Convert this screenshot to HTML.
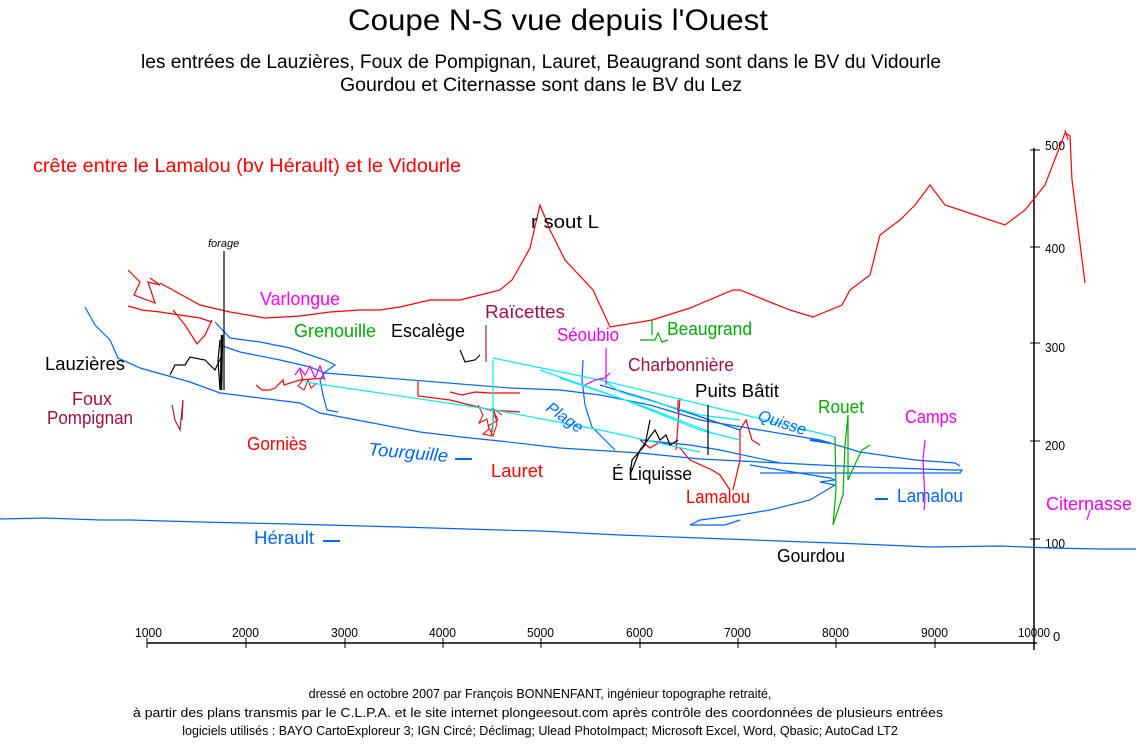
<!DOCTYPE html>
<html><head><meta charset="utf-8"><style>
html,body{margin:0;padding:0;background:#fff;}
svg{display:block;}
text{font-family:"Liberation Sans",sans-serif;}
</style></head><body>
<svg width="1136" height="747" viewBox="0 0 1136 747" xmlns="http://www.w3.org/2000/svg">
<g font-weight="normal">
<text x="348" y="30" font-size="30" textLength="420" lengthAdjust="spacingAndGlyphs" fill="#000">Coupe N-S vue depuis l'Ouest</text>
<text x="141" y="68" font-size="19" textLength="800" lengthAdjust="spacingAndGlyphs">les entrées de Lauzières, Foux de Pompignan, Lauret, Beaugrand sont dans le BV du Vidourle</text>
<text x="340" y="91" font-size="19" textLength="402" lengthAdjust="spacingAndGlyphs">Gourdou et Citernasse sont dans le BV du Lez</text>
<text x="33" y="172" font-size="19" fill="#f00" textLength="428" lengthAdjust="spacingAndGlyphs">crête entre le Lamalou (bv Hérault) et le Vidourle</text>
</g>
<!-- axes -->
<g stroke="#000" stroke-width="1.5" fill="none">
<line x1="147" y1="643" x2="1037" y2="643"/>
<line x1="1034" y1="148" x2="1034" y2="650"/>
</g>
<g stroke="#000" stroke-width="1">
<line x1="147" y1="638" x2="147" y2="648"/><line x1="246" y1="638" x2="246" y2="648"/><line x1="345" y1="638" x2="345" y2="648"/><line x1="443" y1="638" x2="443" y2="648"/><line x1="541" y1="638" x2="541" y2="648"/><line x1="640" y1="638" x2="640" y2="648"/><line x1="738" y1="638" x2="738" y2="648"/><line x1="836" y1="638" x2="836" y2="648"/><line x1="935" y1="638" x2="935" y2="648"/>
<line x1="1030" y1="150" x2="1040" y2="150"/><line x1="1030" y1="247" x2="1040" y2="247"/><line x1="1030" y1="343" x2="1040" y2="343"/><line x1="1030" y1="441" x2="1040" y2="441"/><line x1="1030" y1="539" x2="1040" y2="539"/>
</g>
<g font-size="13" fill="#000">
<text x="135" y="637" textLength="27" lengthAdjust="spacingAndGlyphs">1000</text>
<text x="232" y="637" textLength="27" lengthAdjust="spacingAndGlyphs">2000</text>
<text x="331" y="637" textLength="27" lengthAdjust="spacingAndGlyphs">3000</text>
<text x="429" y="637" textLength="27" lengthAdjust="spacingAndGlyphs">4000</text>
<text x="527" y="637" textLength="27" lengthAdjust="spacingAndGlyphs">5000</text>
<text x="626" y="637" textLength="27" lengthAdjust="spacingAndGlyphs">6000</text>
<text x="724" y="637" textLength="27" lengthAdjust="spacingAndGlyphs">7000</text>
<text x="822" y="637" textLength="27" lengthAdjust="spacingAndGlyphs">8000</text>
<text x="921" y="637" textLength="27" lengthAdjust="spacingAndGlyphs">9000</text>
<text x="1018" y="637" textLength="32" lengthAdjust="spacingAndGlyphs">10000</text>
<text x="1053" y="641">0</text>
<text x="1045" y="548" textLength="20" lengthAdjust="spacingAndGlyphs">100</text>
<text x="1045" y="450" textLength="20" lengthAdjust="spacingAndGlyphs">200</text>
<text x="1045" y="352" textLength="20" lengthAdjust="spacingAndGlyphs">300</text>
<text x="1045" y="253" textLength="20" lengthAdjust="spacingAndGlyphs">400</text>
<text x="1045" y="150" textLength="20" lengthAdjust="spacingAndGlyphs">500</text>
</g>
<!-- crest -->
<g stroke="#f00" stroke-width="1.2" fill="none">
<polyline points="160,283 200,305 230,312 265,318 300,316 330,312 360,310 380,310 400,307 430,300 460,300 480,295 500,290 512,280 520,266 530,248 540,205 550,230 565,260 593,290 610,327 652,320 690,308 733,290 740,290 790,310 813,317 842,305 850,290 870,275 880,235 900,220 915,205 930,185 945,205 1005,225 1025,210 1045,185 1065,133 1070,136 1072,180 1085,283"/>
<polyline points="128,270 140,282 134,295 155,303 148,282 160,285 150,278"/>
<polyline points="128,306 142,310 160,312 200,318 212,322"/>
<polyline points="173,310 185,325 197,344 205,335 212,320"/>
<polyline points="256,385 262,390 270,390 275,388 283,380 284,385 300,380 325,378"/>
<polyline points="418,380 418,396 450,400 470,405 490,410 520,412"/>
<polyline points="450,392 462,395 475,392 490,393 520,393"/>
<polyline points="640,440 650,448 660,442 680,448 690,460 712,470 720,475 730,490"/>
<polyline points="733,490 740,460 740,430 746,420 752,440 760,445"/>
<polyline points="676,450 680,398"/>
<polyline points="1065,130 1068,140"/>
</g>
<g stroke="#e00" stroke-width="1" fill="none">
<path d="M478,405 l5,10 l-4,8 l8,-4 l2,10 l-6,5 l8,2 l3,-20 l-2,-8 l6,12 l-10,6 l5,10 l4,-12 l-3,-15 l8,6"/>
<path d="M300,370 l3,10 l-5,6 l6,4 l4,-10 l3,8 l6,-5"/>
</g>
<text x="260" y="305" font-size="18" fill="#f0f" textLength="80" lengthAdjust="spacingAndGlyphs">Varlongue</text>
<!-- blue rivers -->
<g stroke="#06f" stroke-width="1.2" fill="none">
<polyline points="0,519 45,518 100,520 130,520 200,522 290,524 400,527 500,530 540,531 620,535 700,538 780,541 860,544 930,547 1000,546 1050,548 1100,549 1136,549"/>
<polyline points="85,307 95,325 110,340 118,358 140,368 190,382 220,393 300,403 320,413 420,432 470,438 500,441 560,448 640,453 700,459 780,463 840,466 950,470 962,470 960,473 840,473 760,473"/>
<polyline points="215,322 230,338 260,342 290,348 310,355 325,360 335,365 325,372 320,380 323,395 327,410 338,412"/>
<polyline points="220,345 240,352 280,360 310,367 325,373 510,388 560,390 600,395 650,405 700,420 760,430 820,440 860,452 915,460 955,463 960,466"/>
<polyline points="583,360 582,380 585,405 592,427 605,440 615,450"/>
<polyline points="640,440 690,445 720,450 780,463"/>
<polyline points="750,465 780,470 830,478 835,480 820,482 835,485 810,500 770,510 740,515 700,520 690,525 725,525 740,520"/>
<polyline points="600,385 650,400 710,420 740,430"/>
</g>
<g stroke="#06f" stroke-width="2" fill="none">
<line x1="455" y1="459" x2="472" y2="459"/><line x1="323" y1="541" x2="340" y2="541"/><line x1="875" y1="499" x2="888" y2="499"/><line x1="810" y1="440" x2="830" y2="443"/>
</g>
<!-- cyan -->
<g stroke="#0ee" stroke-width="1.2" fill="none">
<polyline points="305,382 495,410 600,430 700,452"/>
<polyline points="493,358 600,380 700,404 835,437"/>
<polyline points="493,360 493,432"/>
<polyline points="540,370 620,398 700,430 740,440"/>
<polyline points="560,378 640,405 710,432"/>
<polyline points="600,378 620,392 700,415 740,420"/>
</g>
<!-- black -->
<g stroke="#000" stroke-width="1.2" fill="none">
<line x1="224" y1="251" x2="224" y2="390"/>
<polyline points="220,340 218,360 220,390 222,380 221,345"/>
<polyline points="170,375 175,365 185,365 190,357 205,360 215,370 222,355"/>
<polyline points="460,350 465,362 475,360 480,355"/>
<polyline points="650,420 645,445 632,460 630,475 640,450 655,430 660,440 666,435 670,445 678,440"/>
<line x1="708" y1="405" x2="708" y2="455"/>
</g>
<g stroke="#000" stroke-width="2.5"><line x1="222" y1="335" x2="221" y2="390"/></g>
<!-- green -->
<g stroke="#0a0" stroke-width="1.2" fill="none">
<polyline points="835,437 836,490 833,525 843,495 845,445 848,415 848,480 857,460 862,450 870,445"/>
<polyline points="640,340 655,340 658,333 662,342 668,340"/>
<line x1="652" y1="320" x2="652" y2="335"/>
</g>
<!-- magenta -->
<g stroke="#e0e" stroke-width="1.2" fill="none">
<polyline points="295,375 300,368 305,375 310,366 315,378 320,366 325,380"/>
<line x1="606" y1="348" x2="606" y2="385"/>
<polyline points="585,385 595,380 605,378 610,373"/>
<polyline points="925,440 923,460 925,500 924,510"/>
<polyline points="1090,510 1087,520"/>
</g>
<g stroke="#a02040" stroke-width="1.2" fill="none">
<polyline points="172,405 175,420 180,430 183,400 182,420"/>
<line x1="486" y1="325" x2="486" y2="362"/>
<line x1="678" y1="400" x2="678" y2="412"/>
</g>
<!-- labels -->
<g font-size="18">
<text x="208" y="247" font-size="11" font-style="italic">forage</text>
<text x="531" y="228" textLength="68" lengthAdjust="spacingAndGlyphs">r sout L</text>
<text x="45" y="370" textLength="80" lengthAdjust="spacingAndGlyphs">Lauzières</text>
<text x="72" y="405" fill="#a01040" textLength="40" lengthAdjust="spacingAndGlyphs">Foux</text>
<text x="47" y="424" fill="#a01040" textLength="86" lengthAdjust="spacingAndGlyphs">Pompignan</text>
<text x="294" y="337" fill="#0a0" textLength="82" lengthAdjust="spacingAndGlyphs">Grenouille</text>
<text x="391" y="337" textLength="74" lengthAdjust="spacingAndGlyphs">Escalège</text>
<text x="485" y="318" fill="#a01040" textLength="80" lengthAdjust="spacingAndGlyphs">Raïcettes</text>
<text x="557" y="341" fill="#e0e" textLength="62" lengthAdjust="spacingAndGlyphs">Séoubio</text>
<text x="667" y="335" fill="#0a0" textLength="85" lengthAdjust="spacingAndGlyphs">Beaugrand</text>
<text x="628" y="371" fill="#a01040" textLength="106" lengthAdjust="spacingAndGlyphs">Charbonnière</text>
<text x="695" y="397" textLength="84" lengthAdjust="spacingAndGlyphs">Puits Bâtit</text>
<text x="818" y="413" fill="#0a0" textLength="46" lengthAdjust="spacingAndGlyphs">Rouet</text>
<text x="905" y="423" fill="#e0e" textLength="52" lengthAdjust="spacingAndGlyphs">Camps</text>
<text x="247" y="450" fill="#f00" textLength="60" lengthAdjust="spacingAndGlyphs">Gorniès</text>
<text x="368" y="455" fill="#06f" textLength="80" lengthAdjust="spacingAndGlyphs" transform="rotate(5 368 455)" font-style="italic">Tourguille</text>
<text x="491" y="477" fill="#f00" textLength="52" lengthAdjust="spacingAndGlyphs">Lauret</text>
<text x="612" y="480" textLength="80" lengthAdjust="spacingAndGlyphs">É Liquisse</text>
<text x="686" y="503" fill="#f00" textLength="64" lengthAdjust="spacingAndGlyphs">Lamalou</text>
<text x="897" y="502" fill="#06f" textLength="66" lengthAdjust="spacingAndGlyphs">Lamalou</text>
<text x="1046" y="510" fill="#e0e" textLength="86" lengthAdjust="spacingAndGlyphs">Citernasse</text>
<text x="254" y="544" fill="#06f" textLength="60" lengthAdjust="spacingAndGlyphs">Hérault</text>
<text x="777" y="562" textLength="68" lengthAdjust="spacingAndGlyphs">Gourdou</text>
<text x="545" y="410" fill="#06f" font-size="16" transform="rotate(35 545 410)" font-style="italic">Plage</text>
<text x="757" y="420" fill="#06f" font-size="16" transform="rotate(18 757 420)" font-style="italic">Quisse</text>
</g>
<g font-size="12.5" text-anchor="middle">
<text x="540" y="698">dressé en octobre 2007 par François BONNENFANT, ingénieur topographe retraité,</text>
<text x="538" y="717" textLength="810" lengthAdjust="spacingAndGlyphs" text-anchor="start" transform="translate(-405 0)">à partir des plans transmis par le C.L.P.A. et le site internet plongeesout.com après contrôle des coordonnées de plusieurs entrées</text>
<text x="540" y="735">logiciels utilisés : BAYO CartoExploreur 3; IGN Circé; Déclimag; Ulead PhotoImpact; Microsoft Excel, Word, Qbasic; AutoCad LT2</text>
</g>
</svg>
</body></html>
